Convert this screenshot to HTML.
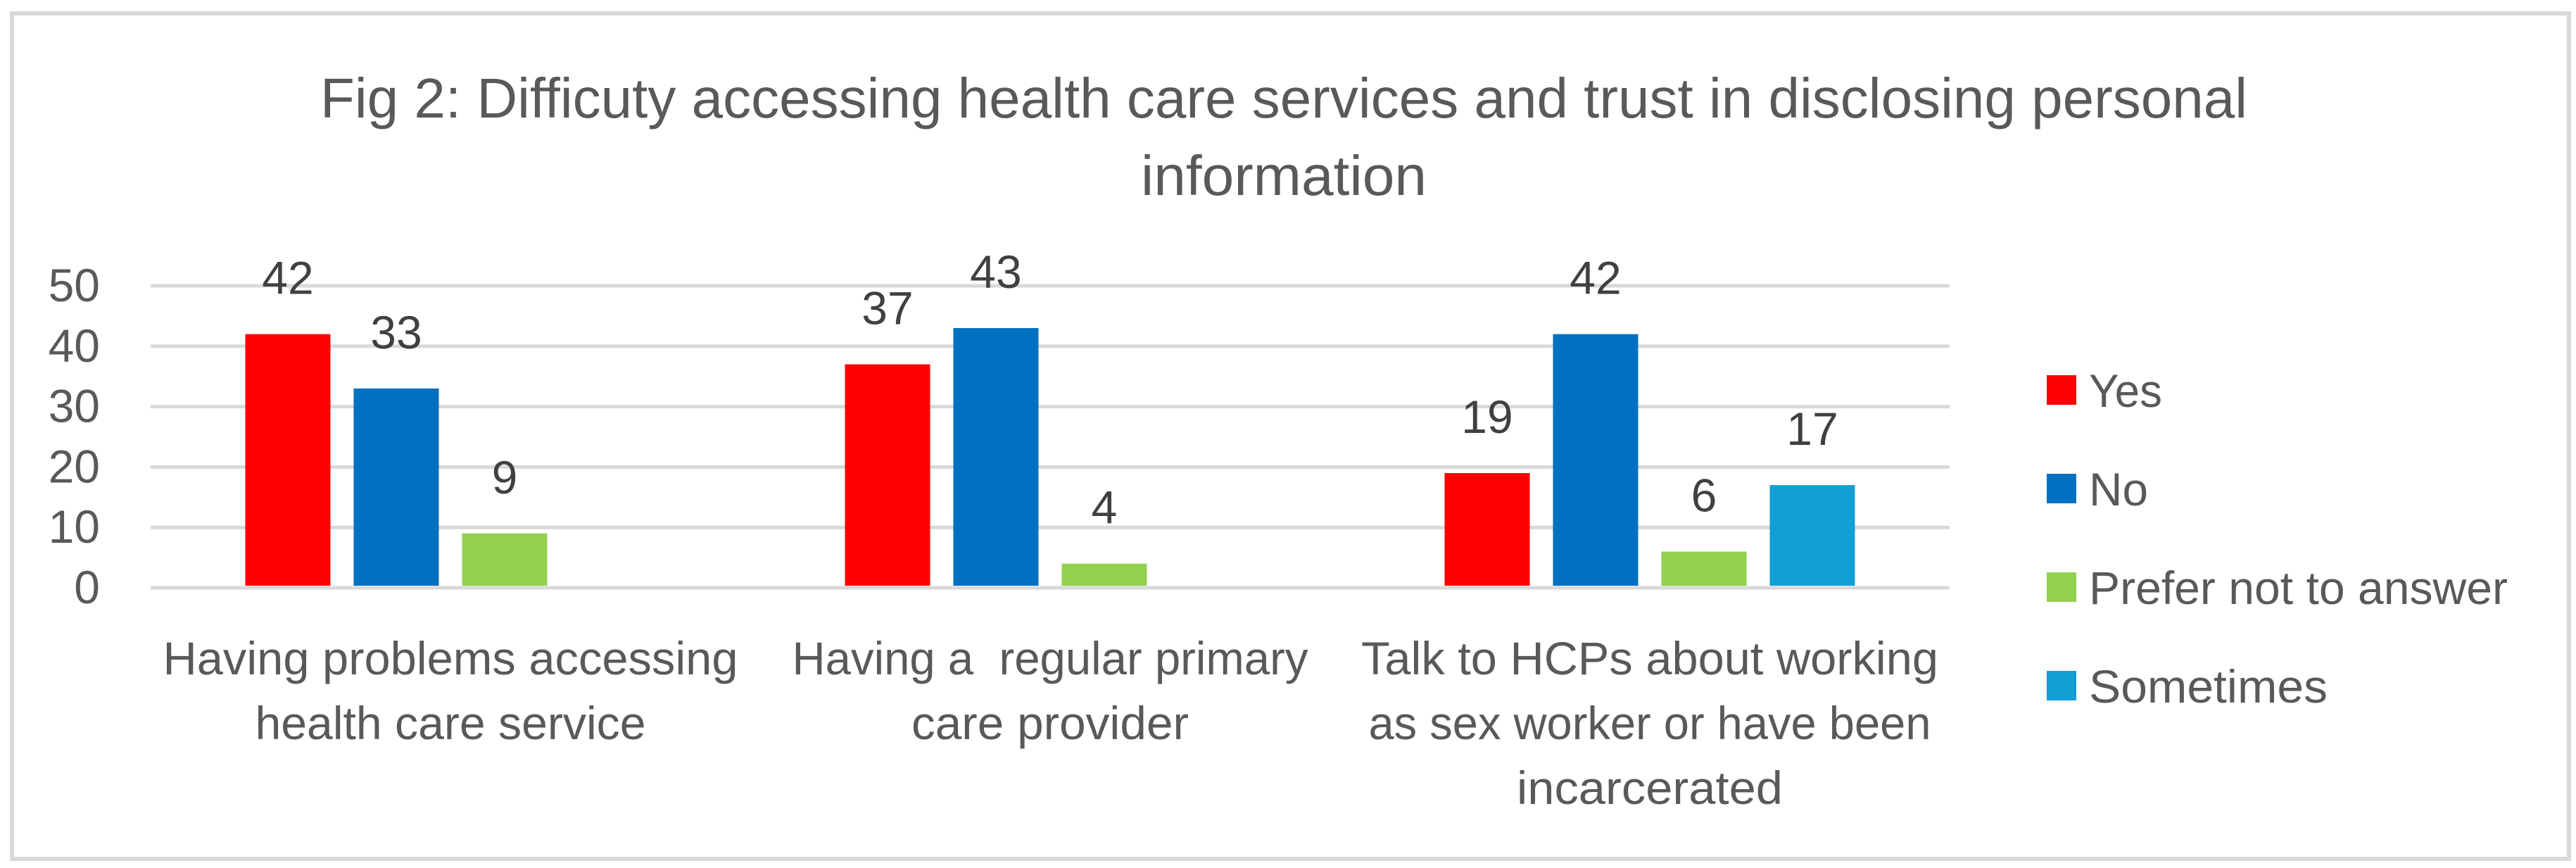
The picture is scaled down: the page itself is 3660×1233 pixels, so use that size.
<!DOCTYPE html>
<html><head><meta charset="utf-8"><style>
html,body{margin:0;padding:0;background:#fff;}
svg{display:block;font-family:"Liberation Sans",sans-serif;}
text{white-space:pre;}
</style></head><body>
<svg id="chart" width="3660" height="1233" viewBox="0 0 3660 1233">
<rect x="17" y="19" width="3633" height="1201" fill="#fff" stroke="#d9d9d9" stroke-width="6"/>
<text x="1824" y="167" font-size="80" fill="#595959" text-anchor="middle" textLength="2738" lengthAdjust="spacingAndGlyphs">Fig 2: Difficuty accessing health care services and trust in disclosing personal</text>
<text x="1824" y="277" font-size="80" fill="#595959" text-anchor="middle" textLength="406" lengthAdjust="spacingAndGlyphs">information</text>
<g id="grid"></g><g id="bars"></g><g id="labels"></g><g id="legend"></g>
</svg>
<script>
const categories = [["Having problems accessing","health care service"],["Having a  regular primary","care provider"],["Talk to HCPs about working","as sex worker or have been","incarcerated"]];
const seriesNames = ["Yes","No","Prefer not to answer","Sometimes"];
const yesValues = [42,37,19];
const noValues = [33,43,42];
const preferValues = [9,4,6];
const sometimesValues = [null,null,17];
const yTicks = [0,10,20,30,40,50];
const colors = ["#ff0000","#0070c0","#92d050","#119fd6"];
const catWidths = [[817,555],[733,394],[820,799,378]];
const legWidths = [104,84,595,339];

const NS="http://www.w3.org/2000/svg";
const plotL=214, plotR=2770, y0=835, y50=406;
const yScale=v=>y0-(v/50)*(y0-y50);
const catW=(plotR-plotL)/categories.length;
const barW=121, gap=33;
function mk(t,a,p){const e=document.createElementNS(NS,t);for(const k in a)e.setAttribute(k,a[k]);p.appendChild(e);return e;}
const grid=document.getElementById('grid'),bars=document.getElementById('bars'),labels=document.getElementById('labels'),legend=document.getElementById('legend');
yTicks.forEach(t=>{
  const l=mk('line',{x1:plotL,x2:plotR,y1:yScale(t),y2:yScale(t),stroke:'#d9d9d9','stroke-width':5},grid);
  
  
  const tx=mk('text',{x:142,y:yScale(t)+22,'font-size':66,fill:'#595959','text-anchor':'end'},grid);
  tx.textContent=t;
  
  
});
const series=[yesValues,noValues,preferValues,sometimesValues];
const groupW=4*barW+3*gap;
categories.forEach((c,i)=>{
  const gx=plotL+catW*i+(catW-groupW)/2;
  series.forEach((s,j)=>{
    const v=s[i]; if(v==null) return;
    const x=gx+j*(barW+gap);
    const r=mk('rect',{x:x,y:yScale(v),width:barW,height:y0-yScale(v)-3,fill:colors[j]},bars);
    
    
    const t=mk('text',{x:x+barW/2,y:yScale(v)-57,'font-size':66,fill:'#404040','text-anchor':'middle'},labels);
    t.textContent=v;
    
    
  });
  const cx=plotL+catW*(i+0.5);
  c.forEach((line,k)=>{
    const t=mk('text',{x:cx,y:958+k*92,'font-size':66,fill:'#595959','text-anchor':'middle',textLength:catWidths[i][k],lengthAdjust:'spacingAndGlyphs'},labels);
    t.textContent=line;
    
    
  });
});
seriesNames.forEach((n,j)=>{
  const cy=554+j*140;
  const r=mk('rect',{x:2908,y:cy-21,width:42,height:42,fill:colors[j]},legend);
  
  
  const t=mk('text',{x:2968,y:cy+24,'font-size':66,fill:'#595959',textLength:legWidths[j],lengthAdjust:'spacingAndGlyphs'},legend);
  t.textContent=n;
  
  
});
</script>
</body></html>
